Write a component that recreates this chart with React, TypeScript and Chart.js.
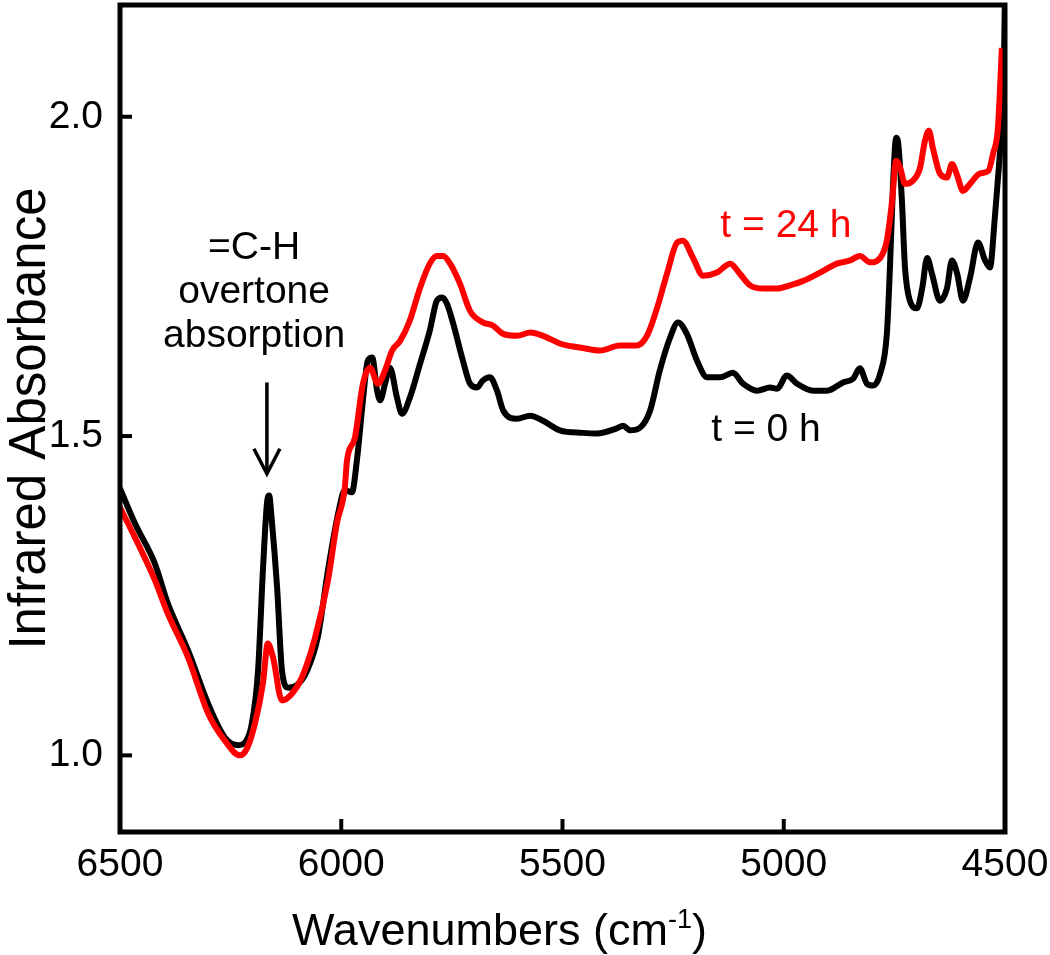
import { useEffect, useRef } from "react";
import { Chart, registerables } from "chart.js";

Chart.register(...registerables);

// ---- Data ----
const wavenumbers0 = [
  6500, 6466, 6421, 6392, 6346, 6301, 6263, 6233, 6218, 6202, 6188, 6177, 6168, 6163, 6157, 6145,
  6134, 6120, 6100, 6077, 6053, 6030, 6007, 5992, 5976, 5964, 5951, 5940, 5930, 5919, 5912, 5901,
  5890, 5874, 5863, 5845, 5822, 5800, 5784, 5772, 5761, 5747, 5725, 5709, 5693, 5680, 5664, 5648,
  5634, 5603, 5573, 5544, 5506, 5454, 5422, 5377, 5363, 5347, 5325, 5302, 5280, 5257, 5239, 5219,
  5196, 5173, 5144, 5115, 5092, 5060, 5031, 5015, 4993, 4970, 4934, 4902, 4866, 4843, 4828, 4812,
  4798, 4782, 4767, 4760, 4753, 4746, 4742, 4733, 4726, 4715, 4699, 4687, 4676, 4665, 4647, 4631,
  4620, 4608, 4595, 4579, 4561, 4545, 4534, 4523, 4511, 4504, 4500,
];
const absorbance0 = [
  1.418, 1.363, 1.3, 1.238, 1.164, 1.081, 1.028, 1.016, 1.02, 1.05, 1.133, 1.29, 1.394, 1.407, 1.368, 1.263,
  1.133, 1.106, 1.11, 1.133, 1.185, 1.29, 1.379, 1.415, 1.412, 1.466, 1.556, 1.618, 1.623, 1.571, 1.556, 1.582,
  1.607, 1.56, 1.535, 1.56, 1.613, 1.665, 1.712, 1.717, 1.707, 1.676, 1.618, 1.582, 1.576, 1.587, 1.592, 1.571,
  1.54, 1.527, 1.532, 1.524, 1.509, 1.505, 1.504, 1.512, 1.516, 1.509, 1.513, 1.54, 1.603, 1.654, 1.678, 1.66,
  1.618, 1.592, 1.592, 1.599, 1.582, 1.571, 1.576, 1.574, 1.595, 1.582, 1.571, 1.571, 1.584, 1.59, 1.606, 1.582,
  1.579, 1.598, 1.66, 1.764, 1.895, 1.967, 1.962, 1.869, 1.764, 1.712, 1.7, 1.732, 1.779, 1.754, 1.712, 1.732,
  1.775, 1.754, 1.712, 1.748, 1.803, 1.775, 1.764, 1.842, 1.947, 2.014, 2.2,
];

const wavenumbers24 = [
  6500, 6466, 6421, 6392, 6346, 6301, 6263, 6229, 6213, 6195, 6177, 6166, 6154, 6134, 6111, 6089,
  6059, 6030, 6010, 5992, 5987, 5969, 5951, 5935, 5917, 5901, 5885, 5867, 5845, 5822, 5800, 5784,
  5770, 5754, 5732, 5709, 5680, 5657, 5634, 5603, 5573, 5544, 5506, 5490, 5454, 5415, 5370, 5332,
  5309, 5286, 5264, 5241, 5228, 5205, 5182, 5151, 5121, 5099, 5076, 5047, 5015, 4986, 4956, 4918,
  4880, 4850, 4828, 4805, 4782, 4767, 4755, 4746, 4737, 4726, 4708, 4692, 4681, 4672, 4663, 4647,
  4631, 4620, 4608, 4595, 4579, 4557, 4538, 4527, 4516, 4507,
];
const absorbance24 = [
  1.388, 1.341, 1.274, 1.222, 1.153, 1.066, 1.023, 1.0, 1.011, 1.05, 1.113, 1.175, 1.153, 1.086, 1.097, 1.122,
  1.185, 1.274, 1.363, 1.419, 1.462, 1.498, 1.582, 1.607, 1.582, 1.603, 1.634, 1.649, 1.681, 1.732, 1.77, 1.782,
  1.782, 1.77, 1.739, 1.696, 1.678, 1.673, 1.66, 1.657, 1.662, 1.657, 1.645, 1.642, 1.638, 1.634, 1.642, 1.642,
  1.657, 1.701, 1.754, 1.803, 1.806, 1.779, 1.751, 1.756, 1.77, 1.754, 1.736, 1.731, 1.731, 1.736, 1.743, 1.756,
  1.77, 1.775, 1.782, 1.772, 1.779, 1.806, 1.869, 1.931, 1.92, 1.895, 1.9, 1.92, 1.962, 1.978, 1.951, 1.911,
  1.905, 1.926, 1.908, 1.884, 1.895, 1.911, 1.915, 1.942, 1.983, 2.108,
];

const seriesLabels = ["t = 0 h", "t = 24 h"];
const xTicks = [6500, 6000, 5500, 5000, 4500];
const yTicks = [1.0, 1.5, 2.0];
const noteLines = ["=C-H", "overtone", "absorption"];

const FONT = "'Liberation Sans', Arial, Helvetica, sans-serif";

// annotation anchors in data coordinates
const notes = {
  textX: 6197,
  lineY: [1.778, 1.709, 1.64],
  arrowX: 6168,
  arrowTop: 1.584,
  arrowTip: 1.441,
  label24: { x: 4995, y: 1.811 },
  label0: { x: 5040, y: 1.493 },
};

const decorPlugin = {
  id: "decor",
  afterDatasetsDraw(chart: any) {
    const { ctx, chartArea: a, scales } = chart;
    const x = scales.x;
    const y = scales.y;
    ctx.save();
    // frame
    ctx.strokeStyle = "#000";
    ctx.lineWidth = 5;
    ctx.strokeRect(a.left, a.top, a.right - a.left, a.bottom - a.top);
    // inward ticks
    ctx.lineWidth = 4;
    xTicks.forEach((v) => {
      const px = x.getPixelForValue(v);
      if (px > a.left + 4 && px < a.right - 4) {
        ctx.beginPath();
        ctx.moveTo(px, a.bottom);
        ctx.lineTo(px, a.bottom - 13);
        ctx.stroke();
      }
    });
    yTicks.forEach((v) => {
      const py = y.getPixelForValue(v);
      ctx.beginPath();
      ctx.moveTo(a.left, py);
      ctx.lineTo(a.left + 12, py);
      ctx.stroke();
    });

    // annotation text
    ctx.fillStyle = "#000";
    ctx.font = `39px ${FONT}`;
    ctx.textAlign = "center";
    ctx.textBaseline = "alphabetic";
    const tx = x.getPixelForValue(notes.textX);
    noteLines.forEach((t, i) => {
      ctx.fillText(t, tx, y.getPixelForValue(notes.lineY[i]));
    });
    // arrow
    const ax = x.getPixelForValue(notes.arrowX);
    const ay1 = y.getPixelForValue(notes.arrowTop);
    const ay2 = y.getPixelForValue(notes.arrowTip);
    ctx.lineWidth = 3.5;
    ctx.lineCap = "butt";
    ctx.beginPath();
    ctx.moveTo(ax, ay1);
    ctx.lineTo(ax, ay2 - 2);
    ctx.stroke();
    ctx.beginPath();
    ctx.moveTo(ax - 13, ay2 - 25);
    ctx.lineTo(ax, ay2);
    ctx.lineTo(ax + 13, ay2 - 25);
    ctx.stroke();

    // series labels
    ctx.fillStyle = "#ff0000";
    ctx.fillText(seriesLabels[1], x.getPixelForValue(notes.label24.x), y.getPixelForValue(notes.label24.y));
    ctx.fillStyle = "#000";
    ctx.fillText(seriesLabels[0], x.getPixelForValue(notes.label0.x), y.getPixelForValue(notes.label0.y));

    // x axis title with superscript
    const main = "Wavenumbers (cm";
    const sup = "-1";
    const close = ")";
    ctx.textAlign = "left";
    ctx.font = `45px ${FONT}`;
    const w1 = ctx.measureText(main).width;
    ctx.font = `27px ${FONT}`;
    const w2 = ctx.measureText(sup).width;
    ctx.font = `45px ${FONT}`;
    const w3 = ctx.measureText(close).width;
    const total = w1 + w2 + w3;
    const cx = (a.left + a.right) / 2 - 63;
    const base = 945;
    let sx = cx - total / 2;
    ctx.fillText(main, sx, base);
    sx += w1;
    ctx.font = `27px ${FONT}`;
    ctx.fillText(sup, sx, base - 17);
    sx += w2;
    ctx.font = `45px ${FONT}`;
    ctx.fillText(close, sx, base);
    ctx.restore();
  },
};

const zeroPad = (s: any) => {
  s.paddingTop = 0;
  s.paddingBottom = 0;
  s.paddingLeft = 0;
  s.paddingRight = 0;
};

export default function App() {
  const ref = useRef<HTMLCanvasElement | null>(null);
  useEffect(() => {
    if (!ref.current) return;
    const chart = new Chart(ref.current, {
      type: "line",
      data: {
        datasets: [
          {
            label: seriesLabels[1],
            data: wavenumbers24.map((w, i) => ({ x: w, y: absorbance24[i] })),
            borderColor: "#ff0000",
            backgroundColor: "#ff0000",
            borderWidth: 6,
            pointRadius: 0,
            cubicInterpolationMode: "monotone",
            order: 0,
          },
          {
            label: seriesLabels[0],
            data: wavenumbers0.map((w, i) => ({ x: w, y: absorbance0[i] })),
            borderColor: "#000000",
            backgroundColor: "#000000",
            borderWidth: 6,
            pointRadius: 0,
            cubicInterpolationMode: "monotone",
            order: 1,
          },
        ],
      },
      options: {
        animation: false,
        responsive: false,
        events: [],
        layout: { padding: { top: 5, right: 45, left: 0, bottom: 0 } },
        plugins: {
          legend: { display: false },
          tooltip: { enabled: false },
          title: { display: false },
        },
        scales: {
          x: {
            type: "linear",
            reverse: true,
            min: 4500,
            max: 6500,
            grid: { display: false, drawTicks: false },
            border: { display: false },
            afterBuildTicks: (s: any) => {
              s.ticks = xTicks.map((v) => ({ value: v }));
            },
            afterFit: (s: any) => {
              s.height = 123;
              zeroPad(s);
            },
            ticks: {
              color: "#000",
              padding: 10,
              maxRotation: 0,
              autoSkip: false,
              font: { family: FONT, size: 39 },
              callback: (v: any) => String(v),
            },
          },
          y: {
            type: "linear",
            min: 0.88,
            max: 2.175,
            grid: { display: false, drawTicks: false },
            border: { display: false },
            afterBuildTicks: (s: any) => {
              s.ticks = yTicks.map((v) => ({ value: v }));
            },
            afterFit: (s: any) => {
              s.width = 120;
              zeroPad(s);
            },
            title: {
              display: true,
              text: "Infrared Absorbance",
              color: "#000",
              font: { family: FONT, size: 51 },
              padding: { top: 0, bottom: 0 },
            },
            ticks: {
              color: "#000",
              padding: 17,
              font: { family: FONT, size: 39 },
              callback: (v: any) => Number(v).toFixed(1),
            },
          },
        },
      },
      plugins: [decorPlugin],
    });
    return () => chart.destroy();
  }, []);
  return (
    <div style={{ position: "fixed", left: 0, top: 0, width: 1050, height: 955, background: "#fff" }}>
      <canvas ref={ref} width={1050} height={955} style={{ width: 1050, height: 955, display: "block" }} />
    </div>
  );
}
